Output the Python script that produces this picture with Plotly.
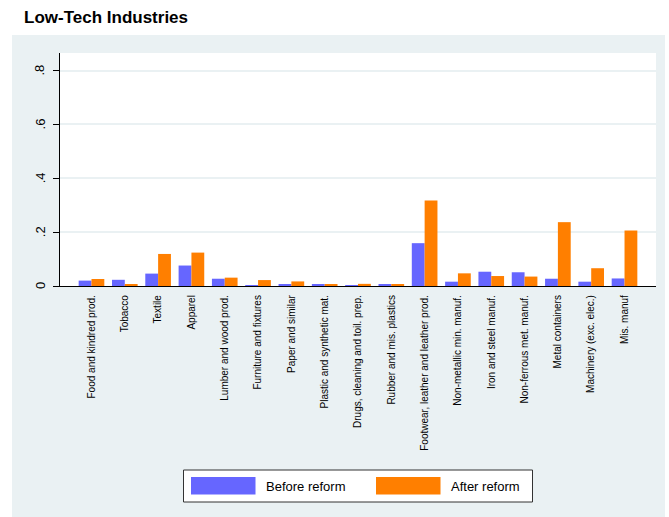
import plotly.graph_objects as go

# Industry categories (x axis) and the two series
industries = [
    "Food and kindred prod.",
    "Tobacco",
    "Textile",
    "Apparel",
    "Lumber and wood prod.",
    "Furniture and fixtures",
    "Paper and similar",
    "Plastic and synthetic mat.",
    "Drugs, cleaning and toil. prep.",
    "Rubber and mis. plastics",
    "Footwear, leather and leather prod.",
    "Non-metallic min. manuf.",
    "Iron and steel manuf.",
    "Non-ferrous met. manuf.",
    "Metal containers",
    "Machinery (exc. elec.)",
    "Mis. manuf",
]
before_reform = [0.020, 0.023, 0.046, 0.076, 0.027, 0.002, 0.004, 0.004, 0.002,
                 0.004, 0.159, 0.016, 0.053, 0.051, 0.027, 0.016, 0.028]
after_reform = [0.026, 0.006, 0.119, 0.124, 0.031, 0.022, 0.017, 0.007, 0.008,
                0.005, 0.317, 0.047, 0.037, 0.035, 0.237, 0.066, 0.206]
y_tick_vals = [0, 0.2, 0.4, 0.6, 0.8]
y_tick_text = ["0", ".2", ".4", ".6", ".8"]

BLUE = "#6666ff"
ORANGE = "#ff7f00"
PANEL = "#eaf1f3"
FONT = "Liberation Sans, Arial, sans-serif"

W, H = 669, 517
L, R, T, B = 60, 13, 53, 231
PW, PH = W - L - R, H - T - B


def px_x(px):
    return (px - L) / PW


def px_y(py):
    return (H - B - py) / PH


x_idx = list(range(len(industries)))

fig = go.Figure()
fig.add_trace(go.Bar(x=x_idx, y=before_reform, name="Before reform",
                     marker=dict(color=BLUE, line=dict(width=0))))
fig.add_trace(go.Bar(x=x_idx, y=after_reform, name="After reform",
                     marker=dict(color=ORANGE, line=dict(width=0))))

shapes = [
    # outer graph region
    dict(type="rect", xref="paper", yref="paper", layer="below",
         x0=px_x(12), x1=px_x(665), y0=px_y(517), y1=px_y(35),
         fillcolor=PANEL, line=dict(width=0)),
    # white plot region
    dict(type="rect", xref="paper", yref="paper", layer="below",
         x0=0, x1=px_x(656), y0=0, y1=1,
         fillcolor="white", line=dict(width=0)),
    # legend box
    dict(type="rect", xref="paper", yref="paper",
         x0=px_x(183.5), x1=px_x(532.5), y0=px_y(502), y1=px_y(470),
         fillcolor="white", line=dict(color="#333333", width=1)),
    dict(type="rect", xref="paper", yref="paper",
         x0=px_x(191), x1=px_x(255.5), y0=px_y(494.5), y1=px_y(477),
         fillcolor=BLUE, line=dict(width=0)),
    dict(type="rect", xref="paper", yref="paper",
         x0=px_x(376), x1=px_x(440.5), y0=px_y(494.5), y1=px_y(477),
         fillcolor=ORANGE, line=dict(width=0)),
]

annotations = [
    dict(text="<b>Low-Tech Industries</b>", xref="paper", yref="paper",
         x=px_x(22), y=px_y(17), xanchor="left", yanchor="middle",
         showarrow=False, font=dict(family=FONT, size=17, color="black")),
    dict(text="Before reform", xref="paper", yref="paper",
         x=px_x(264), y=px_y(486), xanchor="left", yanchor="middle",
         showarrow=False, font=dict(family=FONT, size=13, color="black")),
    dict(text="After reform", xref="paper", yref="paper",
         x=px_x(449), y=px_y(486), xanchor="left", yanchor="middle",
         showarrow=False, font=dict(family=FONT, size=13, color="black")),
]

# vertical y tick labels, placed left of the tick marks
for val, txt in zip(y_tick_vals, y_tick_text):
    annotations.append(dict(
        text=txt, xref="paper", yref="y", x=px_x(40), y=val,
        xanchor="center", yanchor="middle", textangle=-90,
        showarrow=False, font=dict(family=FONT, size=13, color="black")))

fig.update_layout(
    width=W, height=H,
    margin=dict(l=L, r=R, t=T, b=B, pad=0),
    paper_bgcolor="white",
    plot_bgcolor="white",
    barmode="group",
    bargap=0.23,
    bargroupgap=0,
    showlegend=False,
    shapes=shapes,
    annotations=annotations,
    font=dict(family=FONT, color="black"),
)

fig.update_xaxes(
    range=[-0.945, 16.945],
    tickmode="array", tickvals=x_idx, ticktext=industries,
    tickangle=-90, tickfont=dict(size=10, family=FONT, color="black"),
    showgrid=False, zeroline=False,
    showline=True, linecolor="black", linewidth=1.2,
    ticks="", ticklabelstandoff=4,
)
fig.update_yaxes(
    range=[0, 0.865],
    tickmode="array", tickvals=y_tick_vals, ticktext=y_tick_text,
    showticklabels=False,
    showgrid=True, gridcolor=PANEL, gridwidth=1.6,
    zeroline=False,
    showline=True, linecolor="black", linewidth=1.2,
    ticks="outside", ticklen=6, tickcolor="black", tickwidth=1,
)

fig.write_html("out.html")
